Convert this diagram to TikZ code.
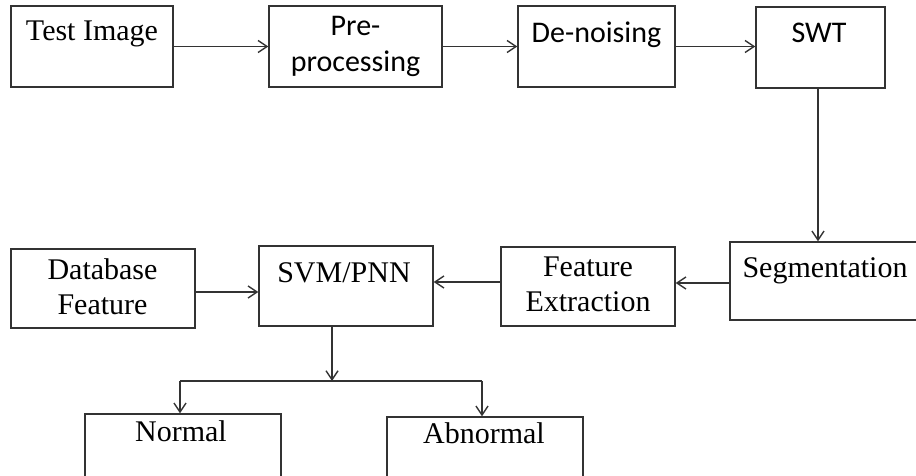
\documentclass[tikz,border=0pt]{standalone}
\usepackage{fontspec}
\setmainfont{Liberation Serif}
\newfontfamily\calib{Carlito}
\usetikzlibrary{arrows.meta}
\begin{document}
\begin{tikzpicture}[x=1pt,y=-1pt,
  box/.style={draw=black!80, line width=1.4pt, inner sep=0pt, rectangle},
  lbl/.style={anchor=base, inner sep=0pt, font=\fontsize{30}{35}\selectfont},
  slbl/.style={anchor=base, inner sep=0pt, font=\calib\fontsize{30}{36}\selectfont},
  ln/.style={draw=black!80, line width=1.4pt},
  arr/.style={ln, -{Straight Barb[length=9pt,width=12pt]}}]
\useasboundingbox (0,0) rectangle (916,476);
% boxes
\node[box, minimum width=162pt, minimum height=81pt] (test) at (92,46.5) {};
\node[box, minimum width=173pt, minimum height=81pt] (pre) at (355.5,46.5) {};
\node[box, minimum width=157pt, minimum height=81pt] (den) at (596.5,46.5) {};
\node[box, minimum width=129pt, minimum height=81pt] (swt) at (820.5,47.5) {};
\node[box, minimum width=200pt, minimum height=78pt] (seg) at (830,281) {};
\node[box, minimum width=174pt, minimum height=79pt] (fe) at (588,286.5) {};
\node[box, minimum width=184pt, minimum height=79pt] (db) at (103,288.5) {};
\node[box, minimum width=174pt, minimum height=80pt] (svm) at (346,286) {};
\node[box, minimum width=196pt, minimum height=80pt] (normal) at (183,454) {};
\node[box, minimum width=196pt, minimum height=80pt] (abnormal) at (485,457) {};
% texts
\node[lbl] (ttest) at (92,41) {Test Image};
\node[slbl] (tpre) at (355.5,36) {\begin{tabular}[t]{@{}c@{}}Pre-\\processing\end{tabular}};
\node[slbl] (tden) at (596.5,43) {De-noising};
\node[slbl] (tswt) at (819,43) {SWT};
\node[lbl] (tseg) at (825,277) {Segmentation};
\node[lbl] (tfe) at (588,276) {\begin{tabular}[t]{@{}c@{}}Feature\\Extraction\end{tabular}};
\node[lbl] (tdb) at (102.5,279) {\begin{tabular}[t]{@{}c@{}}Database\\Feature\end{tabular}};
\node[lbl] (tsvm) at (344,282) {SVM/PNN};
\node[lbl] (tnormal) at (181,441) {Normal};
\node[lbl] (tabnormal) at (484,443) {Abnormal};
% connectors
\draw[arr] (test.east) -- (pre.west);
\draw[arr] (pre.east) -- (den.west);
\draw[arr] (den.east) -- (den.east -| swt.west);
\coordinate (sw) at (818,88);
\draw[arr] (sw) -- (sw |- seg.north);
\coordinate (sa) at ([yshift=-2pt]seg.west);
\draw[arr] (sa) -- (sa -| fe.east);
\coordinate (fa) at ([yshift=4.5pt]fe.west);
\draw[arr] (fa) -- (fa -| svm.east);
\coordinate (da) at ([yshift=-3.5pt]db.east);
\draw[arr] (da) -- (da -| svm.west);
\coordinate (sd) at ([xshift=-14pt]svm.south);
\coordinate (split) at (332,381);
\draw[arr] (sd) -- (sd |- split);
\coordinate (nl) at ([xshift=-3pt]normal.north);
\coordinate (al) at ([xshift=-3pt]abnormal.north);
\draw[ln] (nl |- split) -- (al |- split);
\draw[arr] (nl |- split) -- (nl);
\draw[arr] (al |- split) -- (al);
\end{tikzpicture}
\end{document}
